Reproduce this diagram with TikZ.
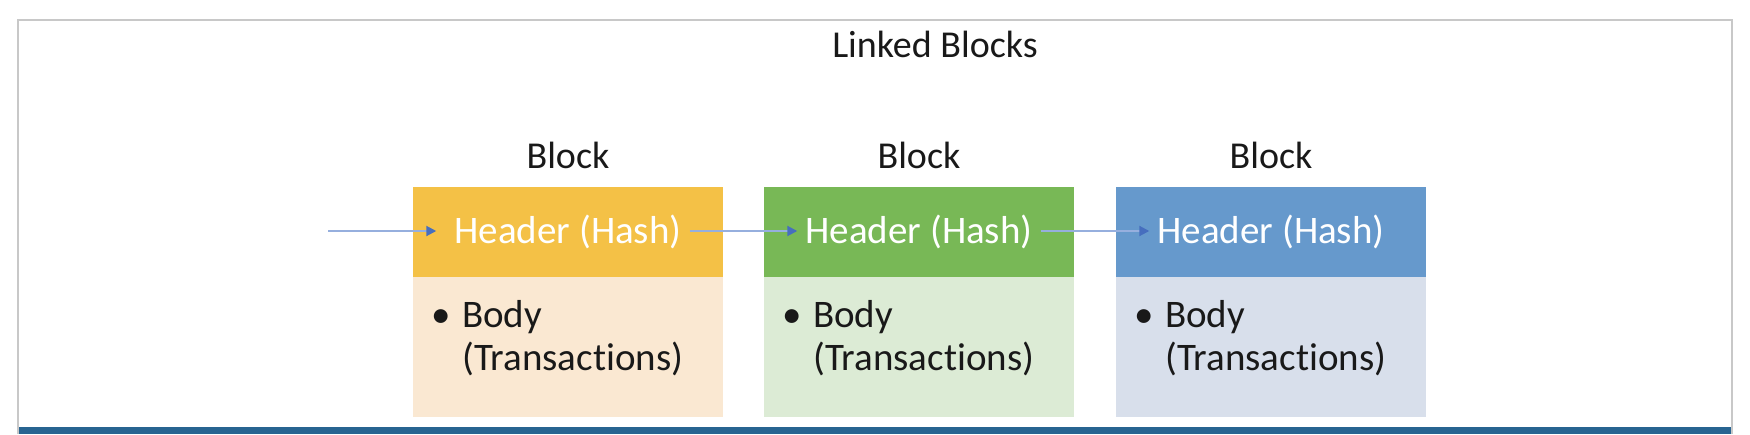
\documentclass[tikz,border=0pt]{standalone}
\usepackage{fontspec}
\setmainfont{Carlito}[Ligatures=NoCommon]
\usetikzlibrary{arrows.meta}
\definecolor{framegray}{RGB}{200,200,200}
\definecolor{barblue}{RGB}{40,100,145}
\definecolor{hdrA}{RGB}{244,193,70}
\definecolor{bodyA}{RGB}{250,232,210}
\definecolor{hdrB}{RGB}{120,184,86}
\definecolor{bodyB}{RGB}{220,235,213}
\definecolor{hdrC}{RGB}{102,153,204}
\definecolor{bodyC}{RGB}{216,223,235}
\definecolor{arrowline}{RGB}{150,175,222}
\definecolor{arrowhead}{RGB}{70,110,190}
\definecolor{inkdark}{RGB}{25,25,25}
\begin{document}
\begin{tikzpicture}[x=1pt,y=-1pt,
  titletext/.style={font=\fontsize{38}{44}\selectfont, text=inkdark, inner sep=0pt, anchor=base},
  hdrbox/.style={draw=none, minimum width=310pt, minimum height=90pt, anchor=north west, inner sep=0pt},
  bodybox/.style={draw=none, minimum width=310pt, minimum height=140pt, anchor=north west, inner sep=0pt},
  hdrtext/.style={font=\fontsize{39}{43}\selectfont, text=white, inner xsep=8pt, inner ysep=0pt, anchor=base},
  bodytext/.style={font=\fontsize{39}{43}\selectfont, text=inkdark, inner sep=0pt, anchor=base west, align=left},
  link/.style={draw=arrowline, line width=2pt, -{Triangle[length=10pt,width=10pt,color=arrowhead]}}
]
\useasboundingbox (0,0) rectangle (1750,434);
\fill[white] (0,0) rectangle (1750,434);
\draw[framegray, line width=2pt] (18,434) -- (18,20) -- (1732,20) -- (1732,434);
\fill[barblue] (19,427) rectangle (1731,434);

\node[titletext] (title) at (935,57) {Linked Blocks};

% Block 1
\node[hdrbox, fill=hdrA] (hb1) at (413,187) {};
\node[bodybox, fill=bodyA] (bb1) at (413,277) {};
\node[titletext] (t1) at (568,168) {Block};
\node[hdrtext] (h1) at (568,243) {Header (Hash)};
\node[bodytext] (b1) at (431,370) {\makebox[31pt][l]{•}Body\\\hspace*{31pt}(Transactions)};

% Block 2
\node[hdrbox, fill=hdrB] (hb2) at (764,187) {};
\node[bodybox, fill=bodyB] (bb2) at (764,277) {};
\node[titletext] (t2) at (919,168) {Block};
\node[hdrtext] (h2) at (919,243) {Header (Hash)};
\node[bodytext] (b2) at (782,370) {\makebox[31pt][l]{•}Body\\\hspace*{31pt}(Transactions)};

% Block 3
\node[hdrbox, fill=hdrC] (hb3) at (1116,187) {};
\node[bodybox, fill=bodyC] (bb3) at (1116,277) {};
\node[titletext] (t3) at (1271,168) {Block};
\node[hdrtext] (h3) at (1271,243) {Header (Hash)};
\node[bodytext] (b3) at (1134,370) {\makebox[31pt][l]{•}Body\\\hspace*{31pt}(Transactions)};

% Links
\coordinate (start) at (328,231);
\draw[link, shorten >=10pt] (start) -- (start -| h1.west);
\draw[link] (h1.east |- start) -- (start -| h2.west);
\draw[link] (h2.east |- start) -- (start -| h3.west);
\end{tikzpicture}
\end{document}
